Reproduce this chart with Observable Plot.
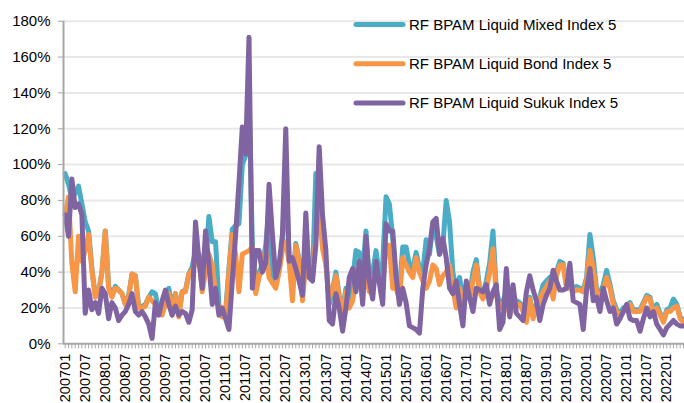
<!DOCTYPE html>
<html><head><meta charset="utf-8">
<script src="https://cdn.jsdelivr.net/npm/d3@7"></script>
<script src="https://cdn.jsdelivr.net/npm/@observablehq/plot@0.6"></script>
<style>body{margin:0;background:#fff;} #chart{width:684px;height:403px;}</style>
</head><body><div id="chart"></div>
<script>
const tickLabels = ["200701","200707","200801","200807","200901","200907","201001","201007","201101","201107","201201","201207","201301","201307","201401","201407","201501","201507","201601","201607","201701","201707","201801","201807","201901","201907","202001","202007","202101","202107","202201"];
const firstMonth = "200701";
const seriesNames = ["RF BPAM Liquid Mixed Index 5","RF BPAM Liquid Bond Index 5","RF BPAM Liquid Sukuk Index 5"];
const seriesColors = ["#4bacc6","#f79646","#8064a2"];
const yTicks = [0,20,40,60,80,100,120,140,160,180];

// monthly values (%), 2007-01 .. 2022-06
const mixed = [
 95,89,81,84,88,78,68,63,42,27,29,40,
 63,32,27,32,30,28,22,27,39,38,21,21,
 22,26,29,28,18,18,24,31,20,28,17,29,
 30,39,43,52,50,32,45,71,57,57,22,16,
 18,42,64,66,67,100,105,140,56,30,40,44,
 55,75,40,33,43,56,100,48,30,56,47,27,
 62,39,38,95,85,56,46,22,30,40,27,18,
 31,24,36,52,51,40,63,35,40,52,38,45,
 82,78,59,35,30,54,54,44,42,51,42,40,
 58,50,66,60,50,55,80,68,40,30,37,25,
 33,27,40,47,31,27,35,45,63,30,22,24,
 28,18,22,24,23,20,14,26,16,22,26,33,
 35,37,28,40,46,45,33,32,31,32,31,30,
 37,61,48,30,28,33,41,33,24,19,17,20,
 21,23,19,19,19,23,27,26,17,22,17,13,
 19,20,25,22,15,13];
const bond = [
 72,82,45,29,60,46,52,61,41,26,29,40,
 63,31,26,31,30,28,22,26,39,38,20,20,
 21,26,24,22,18,16,22,28,16,28,15,29,
 29,39,41,45,50,29,40,50,44,28,20,15,
 16,40,61,50,29,50,51,52,54,28,37,42,
 53,37,34,31,40,52,57,46,24,55,46,24,
 46,37,37,60,75,53,44,26,29,38,26,17,
 29,20,24,35,40,25,42,29,37,38,34,31,
 55,55,31,31,25,48,44,40,37,48,40,35,
 31,35,44,42,33,38,40,44,31,20,31,22,
 31,25,35,44,29,25,30,40,53,27,20,22,
 25,16,20,22,22,18,12,25,14,20,25,29,
 32,35,25,38,44,44,31,31,29,30,30,29,
 35,52,42,29,26,30,37,31,22,18,16,18,
 20,22,18,18,18,22,26,25,16,20,16,12,
 18,18,20,21,14,12];
const sukuk = [
 72,60,92,76,78,72,17,30,19,23,17,31,
 28,14,23,20,13,16,18,22,28,18,16,18,
 15,11,3,23,16,24,30,22,16,21,16,18,
 17,12,19,68,47,31,63,45,22,31,16,20,
 14,8,35,61,90,121,106,171,31,52,52,40,
 45,89,61,37,44,61,120,46,48,42,35,27,
 73,37,35,55,110,72,52,13,11,28,20,7,
 20,37,42,29,46,22,60,35,25,46,34,22,
 67,63,63,38,22,31,23,10,9,8,6,31,
 44,53,68,70,50,59,48,31,28,35,22,10,
 35,26,18,31,30,29,33,22,29,33,8,12,
 42,15,33,17,15,13,29,38,30,24,13,22,
 27,31,41,35,30,30,31,45,24,23,22,8,
 30,42,24,26,18,31,24,18,20,11,14,18,
 22,14,13,13,7,14,20,15,18,11,8,5,
 9,11,13,11,10,10];

const monthIndex = s => (+s.slice(0,4) - +firstMonth.slice(0,4)) * 12 + (+s.slice(4) - +firstMonth.slice(4));
const n = mixed.length;
const rows = [];
[mixed, bond, sukuk].forEach((arr, s) => arr.forEach((v, i) => rows.push({i, v, s: seriesNames[s]})));
const tickIdx = tickLabels.map(monthIndex);
const labelOf = new Map(tickLabels.map(l => [monthIndex(l), l]));
const font = "'Liberation Sans', Arial, sans-serif";
const axisGray = "#a6a6a6";

const plot = Plot.plot({
  width: 684, height: 403,
  marginLeft: 63, marginRight: 0, marginTop: 20.7, marginBottom: 59.7,
  style: {fontFamily: font, fontSize: "15px", color: "#000", background: "#fff", overflow: "visible"},
  x: {domain: [-0.5, n - 0.7], axis: null},
  y: {domain: [0, 180], axis: null},
  color: {domain: seriesNames, range: seriesColors},
  marks: [
    Plot.gridY(yTicks.filter(d => d > 0), {stroke: "#e8e8e8", strokeOpacity: 1, strokeWidth: 2}),
    Plot.lineY(rows, {x: "i", y: "v", z: "s", stroke: "s", strokeWidth: 5, strokeLinejoin: "round", strokeLinecap: "round"}),
    Plot.axisY(yTicks, {anchor: "left", label: null, tickSize: 5, tickPadding: 8, tickFormat: d => d + "%", stroke: axisGray, fill: "#000", fontSize: 15}),
    Plot.axisX(d3.range(n), {anchor: "bottom", label: null, tickSize: 5, tickFormat: () => "", stroke: axisGray}),
    Plot.axisX(tickIdx, {anchor: "bottom", label: null, tickSize: 0, tickPadding: 10, tickRotate: -90, tickFormat: d => labelOf.get(d), fill: "#000", fontSize: 14.5}),
    Plot.ruleX([-0.5], {stroke: axisGray, strokeWidth: 2}),
    Plot.ruleY([0], {stroke: axisGray, strokeWidth: 2})
  ]
});
document.getElementById("chart").appendChild(plot);

// legend inside the plot area, top right
const svg = d3.select(plot);
const lg = svg.append("g").attr("font-family", font).attr("font-size", 15).attr("text-anchor", "start");
seriesNames.forEach((name, k) => {
  const y = 24.5 + k * 39.3;
  lg.append("line").attr("x1", 356).attr("x2", 403).attr("y1", y).attr("y2", y)
    .attr("stroke", seriesColors[k]).attr("stroke-width", 5).attr("stroke-linecap", "round");
  lg.append("text").attr("x", 409).attr("y", y).attr("dy", "0.35em").attr("fill", "#000").attr("text-anchor", "start").text(name);
});
</script>
</body></html>
